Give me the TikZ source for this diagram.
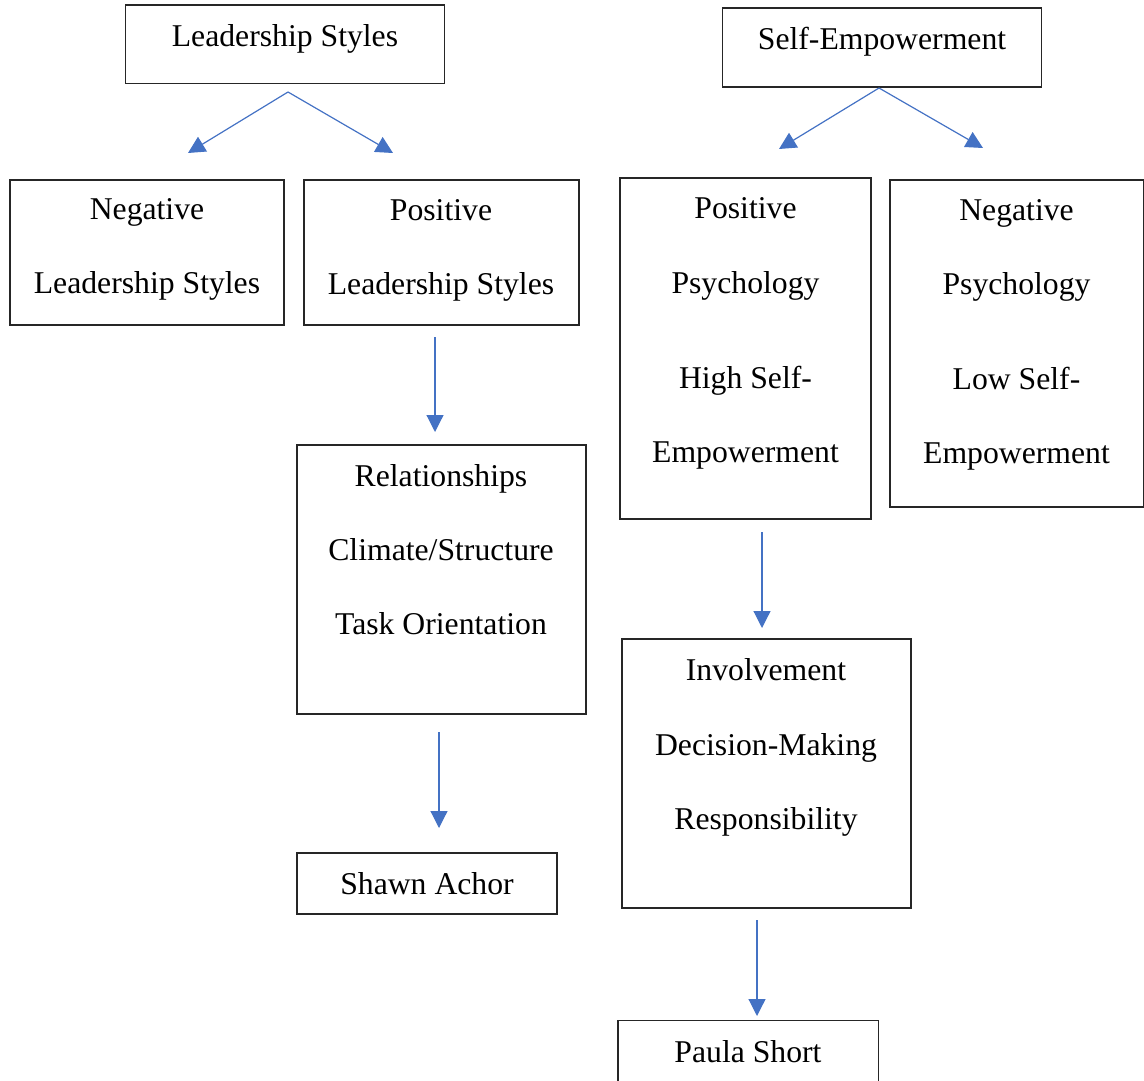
\documentclass[tikz,border=0pt]{standalone}
\usepackage{fontspec}
\setmainfont{Liberation Serif}
\usetikzlibrary{arrows.meta}
\definecolor{arrowblue}{HTML}{4472C4}
\begin{document}
\begin{tikzpicture}[x=0.5pt,y=-0.5pt,
  boxr/.style={draw=black!85,line width=0.65pt},
  txt/.style={anchor=base,inner sep=0pt,font=\fontsize{15.85}{19}\selectfont},
  conn/.style={draw=arrowblue,line width=0.6pt,-{Triangle[length=8.5pt,width=8.5pt]}}]
\useasboundingbox (0,0) rectangle (1144,1080);
\clip (0,0) rectangle (1144,1080);
% boxes
\draw[boxr] (125.5,5) rectangle (444.5,83.5);
\draw[boxr] (722.5,8) rectangle (1041.5,87);
\draw[boxr] (10,180) rectangle (284,325);
\draw[boxr] (304,180) rectangle (579,325);
\draw[boxr] (620,178) rectangle (871,519);
\draw[boxr] (890,180) rectangle (1143.3,507);
\draw[boxr] (297,445) rectangle (586,714);
\draw[boxr] (297,853) rectangle (557,914);
\draw[boxr] (622,639) rectangle (911,908);
\draw[boxr] (618,1020.5) rectangle (878.5,1100);
% texts
\node[txt] (ls) at (285,47) {Leadership Styles};
\node[txt] (se) at (882,50) {Self-Empowerment};
\node[txt] (neg1) at (147,220) {Negative};
\node[txt] (neg2) at (147,294) {Leadership Styles};
\node[txt] (pos1) at (441,221) {Positive};
\node[txt] (pos2) at (441,295) {Leadership Styles};
\node[txt] (pp1) at (745.5,219) {Positive};
\node[txt] (pp2) at (745.5,294) {Psychology};
\node[txt] (pp3) at (745.5,388) {High Self-};
\node[txt] (pp4) at (745.5,462) {Empowerment};
\node[txt] (np1) at (1016.5,221) {Negative};
\node[txt] (np2) at (1016.5,295) {Psychology};
\node[txt] (np3) at (1016.5,389) {Low Self-};
\node[txt] (np4) at (1016.5,463) {Empowerment};
\node[txt] (r1) at (441,486) {Relationships};
\node[txt] (r2) at (441,560) {Climate/Structure};
\node[txt] (r3) at (441,634) {Task Orientation};
\node[txt] (sa) at (427,894) {Shawn Achor};
\node[txt] (i1) at (766,680) {Involvement};
\node[txt] (i2) at (766,755) {Decision-Making};
\node[txt] (i3) at (766,829) {Responsibility};
\node[txt] (ps) at (748,1062) {Paula Short};
% connectors
\coordinate (lsA) at (288,92);
\coordinate (lsL) at (188,153);
\coordinate (lsR) at (393,153);
\coordinate (seA) at (879,88);
\coordinate (seL) at (779,149);
\coordinate (seR) at (983,148);
\coordinate (p1) at (435,337);
\coordinate (p2) at (435,432);
\coordinate (r1a) at (439,732);
\coordinate (r1b) at (439,828);
\coordinate (q1) at (762,532);
\coordinate (q2) at (762,628);
\coordinate (v1) at (757,920);
\coordinate (v2) at (757,1016);
\draw[conn] (lsA) -- (lsL);
\draw[conn] (lsA) -- (lsR);
\draw[conn] (seA) -- (seL);
\draw[conn] (seA) -- (seR);
\draw[conn] (p1) -- (p2);
\draw[conn] (r1a) -- (r1b);
\draw[conn] (q1) -- (q2);
\draw[conn] (v1) -- (v2);
\end{tikzpicture}
\end{document}
